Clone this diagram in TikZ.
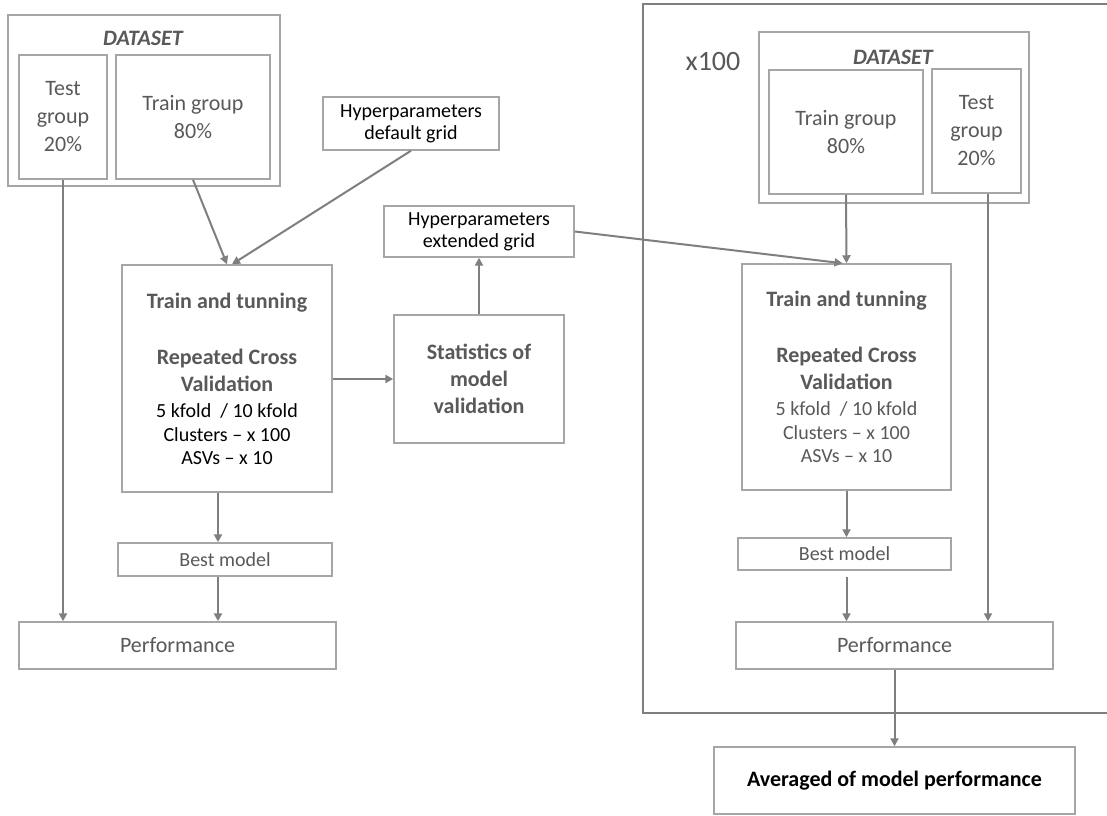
\documentclass[tikz,border=0pt]{standalone}
\usepackage{fontspec}
\setmainfont{Carlito}
\usetikzlibrary{arrows.meta,fit}
\definecolor{txtgray}{HTML}{595959}
\definecolor{boxgray}{HTML}{A6A6A6}
\definecolor{arrgray}{HTML}{7F7F7F}
\newcommand{\fsA}{\fontsize{16.5pt}{21pt}\selectfont}
\newcommand{\fsB}{\fontsize{15pt}{16.5pt}\selectfont}
\newcommand{\fsTT}{\fontsize{16.5pt}{18pt}\selectfont}
\begin{document}
\begin{tikzpicture}[x=0.75pt,y=-0.75pt,
  box/.style={draw=boxgray, line width=1.1pt, inner sep=0pt, align=center, text=txtgray},
  lbl/.style={inner sep=0pt, text=txtgray},
  arr/.style={draw=arrgray, line width=1.5pt, -{Triangle[length=6pt,width=6pt]}},
  frame/.style={draw=arrgray, line width=1.6pt}]
\clip (0,0) rectangle (1107,816);
\fill[white] (0,0) rectangle (1107,816);
% big frame (cut by the right edge)
\draw[frame] (1115,4) -- (643,4) -- (643,713) -- (1115,713);
% ---- left part
\node[box, fit={(8,15) (280,186)}] (ds1) {};
\node[lbl, font=\fsA\bfseries\itshape] (dsl1) at (143,38) {DATASET};
\node[box, font=\fsA, minimum width=66pt, minimum height=93pt] (te1) at (63,117) {Test\\group\\20\%};
\node[box, font=\fsA, minimum width=115.5pt, minimum height=93pt] (tr1) at (193,117) {Train group\\80\%};
\node[box, font=\fsB, text=black, minimum width=132pt, minimum height=39.75pt] (hd) at (411,123.5) {Hyperparameters\\default grid};
\node[box, font=\fsB, text=black, minimum width=142.5pt, minimum height=38.25pt] (he) at (479,231.5) {Hyperparameters\\extended grid};
\node[box, font=\fsTT, minimum width=157.5pt, minimum height=170.25pt] (tt1) at (227,378.5) {\textbf{Train and tunning}\\[24pt]
  \textbf{Repeated Cross}\\[2.25pt]
  \textbf{Validation}\\[1.5pt]
  {\color{black}\fsB 5 kfold~~/ 10 kfold}\\
  {\color{black}\fsB Clusters -- x 100}\\[-0.75pt]
  {\color{black}\fsB ASVs -- x 10}};
\node[box, font=\fontsize{16.5pt}{20.25pt}\selectfont\bfseries, minimum width=127.5pt, minimum height=96pt] (st) at (479,379) {Statistics of\\model\\validation};
\node[box, font=\fsB, minimum width=160.5pt, minimum height=24.75pt] (bm1) at (225,559.5) {Best model};
\node[box, font=\fsA, minimum width=237.75pt, minimum height=35.25pt] (pf1) at (177.5,645.5) {Performance};
% ---- right part
\node[lbl, font=\fontsize{21pt}{24pt}\selectfont] (x100) at (713,62) {x100};
\node[box, fit={(759,32) (1029,203)}] (ds2) {};
\node[lbl, font=\fsA\bfseries\itshape] (dsl2) at (893,57) {DATASET};
\node[box, font=\fsA, minimum width=115.5pt, minimum height=93pt] (tr2) at (846,132) {Train group\\80\%};
\node[box, font=\fsA, minimum width=66.75pt, minimum height=93pt] (te2) at (976.5,131) {Test\\group\\20\%};
\node[box, font=\fsTT, minimum width=156.75pt, minimum height=169.5pt] (tt2) at (846.5,377) {\textbf{Train and tunning}\\[24pt]
  \textbf{Repeated Cross}\\[2.25pt]
  \textbf{Validation}\\[1.5pt]
  {\fsB 5 kfold~~/ 10 kfold}\\
  {\fsB Clusters -- x 100}\\[-0.75pt]
  {\fsB ASVs -- x 10}};
\node[box, font=\fsB, minimum width=159.75pt, minimum height=24pt] (bm2) at (844.5,554) {Best model};
\node[box, font=\fsA, minimum width=237.75pt, minimum height=35.25pt] (pf2) at (894.5,645.5) {Performance};
\node[box, font=\fsA\bfseries, text=black, minimum width=270.75pt, minimum height=50.25pt] (avg) at (894.5,780.5) {Averaged of model performance};
% ---- connectors
\draw[arr] (te1.south) -- (te1.south |- pf1.north);
\draw[arr] (tr1.south) -- (tt1.north);
\draw[arr] (hd.south) -- ([xshift=3.75pt]tt1.north);
\draw[arr] ([xshift=-6.75pt]tt1.south) -- ([xshift=-6.75pt]tt1.south |- bm1.north);
\draw[arr] ([xshift=-6.75pt]tt1.south |- bm1.south) -- ([xshift=-6.75pt]tt1.south |- pf1.north);
\draw[arr] (tt1.east |- st.west) -- (st.west);
\draw[arr] (st.north) -- (he.south);
\draw[arr] (he.east) -- ([xshift=-3pt]tt2.north);
\draw[arr] (tr2.south) -- (tt2.north);
\draw[arr] ([xshift=8.6pt]te2.south) -- ([xshift=8.6pt]te2.south |- pf2.north);
\draw[arr] (tt2.south) -- (tt2.south |- bm2.north);
\draw[arr] ([yshift=-4.5pt]tt2.south |- bm2.south) -- (tt2.south |- pf2.north);
\draw[arr] (pf2.south) -- (avg.north);
\end{tikzpicture}
\end{document}
